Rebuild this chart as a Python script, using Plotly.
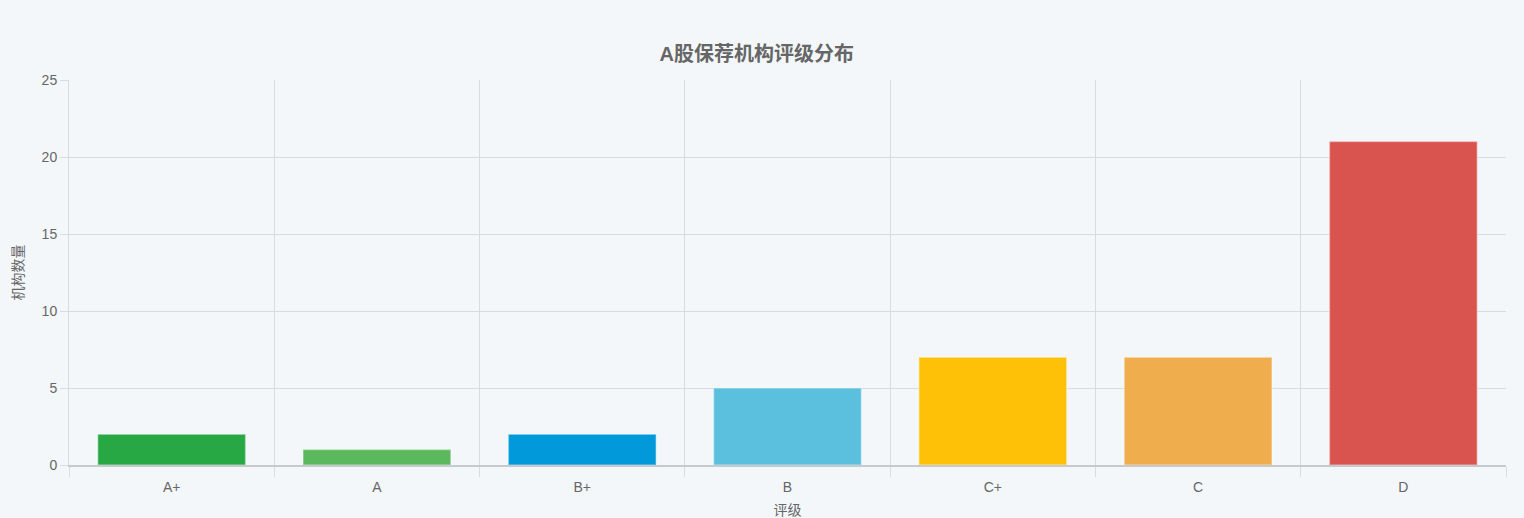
import plotly.graph_objects as go

ratings = ["A+", "A", "B+", "B", "C+", "C", "D"]
counts = [2, 1, 2, 5, 7, 7, 21]
bar_colors = ["#28a745", "#5cb85c", "#0299da", "#5bc0de", "#ffc107", "#f0ad4e", "#d9534f"]

FONT = "Liberation Sans, Arial, Noto Sans CJK SC, sans-serif"
GRID = "#d8dce1"
BG = "#f3f7fa"

fig = go.Figure(
    go.Bar(
        x=ratings,
        y=counts,
        width=0.72,
        marker=dict(color=bar_colors, line=dict(color="rgba(255,255,255,0.35)", width=1.5)),
        hoverinfo="x+y",
    )
)

fig.update_layout(
    width=1524,
    height=518,
    margin=dict(l=69, r=18, t=80, b=53),
    paper_bgcolor=BG,
    plot_bgcolor=BG,
    font=dict(family=FONT, size=14, color="#666666"),
    title=dict(
        text="<b>A股保荐机构评级分布</b>",
        x=0.4965,
        xanchor="center",
        y=0.895,
        yanchor="middle",
        font=dict(size=20, color="#666666"),
    ),
    showlegend=False,
)

fig.update_xaxes(
    type="category",
    tickson="boundaries",
    showgrid=True,
    gridcolor=GRID,
    gridwidth=1,
    ticks="outside",
    ticklen=10,
    tickcolor=GRID,
    ticklabelstandoff=8,
    showline=True,
    linecolor="#c6c9cd",
    linewidth=1.5,
    automargin=False,
    title=dict(text="评级", font=dict(size=14, color="#666666"), standoff=19),
    tickfont=dict(size=14, color="#666666"),
)

fig.update_yaxes(
    range=[0, 25],
    dtick=5,
    showgrid=True,
    gridcolor=GRID,
    gridwidth=1,
    ticks="outside",
    ticklen=8,
    tickcolor=GRID,
    showline=True,
    linecolor=GRID,
    zeroline=False,
    automargin=False,
    title=dict(text="机构数量", font=dict(size=14, color="#666666"), standoff=14),
    tickfont=dict(size=14, color="#666666"),
)

# page has no white frame in the reference
fig.write_html(
    "out.html",
    config={"displayModeBar": False},
    post_script="document.body.style.margin='0';document.body.style.background='%s';" % BG,
)
